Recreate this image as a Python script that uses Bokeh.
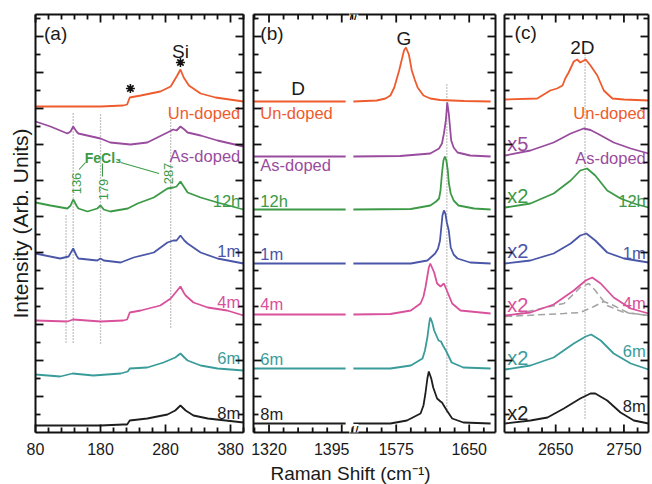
from math import pi
from bokeh.plotting import figure
from bokeh.models import LinearAxis, FixedTicker, Range1d, Label
from bokeh.layouts import row, column
from bokeh.core.properties import value
from bokeh.embed import file_html
from bokeh.resources import INLINE

FONT = "Liberation Sans"

series = ["Un-doped", "As-doped", "12h", "1m", "4m", "6m", "8m"]
colors = ["#EE5B2D", "#994C9E", "#3C9A47", "#4A56A8", "#D9509B", "#3A9C9A", "#1E1E1E"]
multipliers = ["x5", "x2", "x2", "x2", "x2", "x2"]

# ---------------- panel (a): low-frequency region ----------------
a_undoped_x = [80, 180, 215, 221, 225, 242, 272, 288, 298, 303, 308, 316, 334, 357, 400]
a_undoped_y = [326, 326, 327, 328, 335, 337, 341, 346, 357, 363, 355, 347, 339, 335, 331]
a_asdoped_x = [80, 103, 129, 134, 138, 143, 146, 180, 195, 226, 252, 283, 292, 297, 303, 309, 314, 334, 360, 400]
a_asdoped_y = [311, 306, 299, 301, 306, 301, 299, 294, 290, 288, 290, 300, 303, 302, 306, 303, 300, 297, 292, 286]
a_12h_x = [80, 103, 129, 134, 138, 143, 146, 160, 175, 180, 185, 195, 222, 237, 262, 283, 292, 297, 303, 309, 314, 334, 360, 400]
a_12h_y = [230, 227, 224, 227, 233, 227, 224, 221, 224, 227, 223, 221, 224, 229, 235, 244, 245, 246, 251, 245, 240, 235, 230, 223]
a_1m_x = [80, 118, 131, 138, 143, 146, 175, 180, 185, 211, 231, 262, 283, 292, 297, 303, 309, 314, 334, 360, 400]
a_1m_y = [179, 174, 176, 184, 177, 174, 172, 174, 172, 170, 175, 180, 190, 192, 192, 197, 192, 189, 180, 174, 169]
a_4m_x = [80, 129, 138, 180, 215, 221, 225, 242, 272, 288, 298, 303, 308, 311, 323, 345, 375, 400]
a_4m_y = [112, 111, 113, 111, 112, 113, 120, 122, 127, 134, 142, 146, 140, 137, 130, 125, 122, 117]
a_6m_x = [80, 118, 137, 169, 211, 222, 225, 252, 277, 295, 303, 309, 314, 334, 360, 400]
a_6m_y = [58, 56, 59, 57, 59, 61, 64, 65, 70, 75, 79, 75, 72, 67, 64, 62]
a_8m_x = [80, 180, 215, 221, 225, 252, 283, 295, 303, 311, 323, 345, 400]
a_8m_y = [7, 7, 8, 8, 12, 14, 18, 22, 27, 22, 17, 14, 10]

a_fecl3_modes = ["136", "179", "287"]
a_line_x = [127, 138, 180, 288]
a_line_top = [219, 319, 319, 319]
a_line_bottom = [90, 90, 89, 105]

# ---------------- panel (b): D region (left of the break) ----------------
bl_x = [1304, 1330, 1360, 1399]
bl_undoped_y = [331, 331, 331, 331]
bl_asdoped_y = [276, 276, 276, 276]
bl_12h_y = [223, 223, 223, 223]
bl_1m_y = [169, 169, 169, 169]
bl_4m_y = [118, 118, 118, 118]
bl_6m_y = [64, 64, 64, 64]
bl_8m_y = [9, 9, 9, 9]

# ---------------- panel (b): G region (right of the break) ----------------
br_undoped_x = [1531, 1555, 1564, 1569, 1573, 1578, 1581, 1583, 1585, 1588, 1591, 1594, 1597, 1603, 1610, 1620, 1645, 1672]
br_undoped_y = [331, 332, 334, 337, 345, 362, 374, 382, 385, 378, 362, 353, 345, 337, 334, 332.5, 331.5, 331]
br_asdoped_x = [1531, 1579, 1610, 1619, 1622, 1624, 1626, 1627, 1627.4, 1628, 1629, 1631.5, 1634, 1638, 1651, 1672]
br_asdoped_y = [276, 276.5, 279, 284, 289, 299, 312, 325, 330, 326, 319, 292, 285, 280, 277, 276]
br_12h_x = [1531, 1590, 1610, 1616, 1619, 1620.5, 1622, 1623.5, 1625, 1626.5, 1628, 1629, 1631, 1634, 1639, 1655, 1672]
br_12h_y = [223, 223.5, 227, 231, 234, 242, 259, 272, 276, 272, 262, 250, 239, 232, 227, 224, 223]
br_1m_x = [1531, 1590, 1607, 1615, 1618, 1620, 1621, 1622.5, 1624, 1625.5, 1627, 1629, 1631, 1634, 1638, 1651, 1672]
br_1m_y = [169, 169, 172, 179, 184, 192, 202, 217, 222, 219, 210, 202, 185, 178, 174, 170, 169]
br_4m_x = [1531, 1569, 1590, 1600, 1603, 1605, 1608.5, 1610, 1614, 1617, 1620.5, 1624, 1627, 1632.5, 1641, 1672]
br_4m_y = [118, 118.5, 122, 129, 136, 145, 165, 169, 160, 149, 146, 149, 142, 129, 122, 119]
br_6m_x = [1531, 1569, 1590, 1602, 1604.5, 1607, 1609, 1610, 1612, 1614, 1618.5, 1621, 1623, 1626, 1632, 1644, 1672]
br_6m_y = [64, 64, 67, 74, 82, 95, 110, 115, 110, 102, 92, 91, 87, 82, 70, 65, 64]
br_8m_x = [1531, 1569, 1586, 1600, 1603, 1605, 1607, 1608.5, 1611, 1613, 1617, 1620.5, 1622, 1627, 1632.5, 1644, 1672]
br_8m_y = [9, 9, 12, 19, 27, 39, 54, 61, 54, 45, 34, 31, 30, 22, 14, 10, 9]
b_line_x = [1627]
b_line_top = [350]
b_line_bottom = [20]

# ---------------- panel (c): 2D region ----------------
c_undoped_x = [2576, 2623, 2642, 2652, 2660, 2664, 2669, 2676.5, 2681.5, 2686, 2694, 2701, 2711, 2720.5, 2733, 2750, 2786]
c_undoped_y = [333, 334, 342, 344, 347, 354, 360, 371, 373, 370, 373, 367, 357, 342, 334, 333, 332]
c_asdoped_x = [2576, 2613, 2647, 2672, 2691, 2701, 2711, 2735, 2760, 2786]
c_asdoped_y = [277, 282, 290, 299, 304, 302.5, 299, 290, 284, 279]
c_12h_x = [2576, 2613, 2647, 2672, 2686, 2696, 2708, 2725.5, 2745, 2767, 2786]
c_12h_y = [225, 229, 239, 252, 262, 264, 257, 242, 234, 228.5, 225]
c_1m_x = [2576, 2613, 2647, 2672, 2686, 2695, 2708, 2725.5, 2750, 2786]
c_1m_y = [169, 172, 179, 189, 197, 199, 192, 180, 174, 170]
c_4m_x = [2576, 2613, 2647, 2676.5, 2694, 2703.5, 2716, 2735, 2760, 2786]
c_4m_y = [117, 120, 128, 142, 152, 155, 149, 135, 124, 119]
c_4m_fit1_x = [2576, 2662, 2686, 2698.5, 2708, 2716, 2725.5, 2750, 2786]
c_4m_fit1_y = [116, 129, 145, 149, 142, 135, 127, 120, 117]
c_4m_fit2_x = [2576, 2662, 2686, 2706, 2720.5, 2735, 2755, 2786]
c_4m_fit2_y = [116, 119, 120, 126, 131, 127, 120, 117]
c_6m_x = [2576, 2613, 2647, 2676.5, 2694, 2702, 2716, 2735, 2760, 2786]
c_6m_y = [63, 67, 75, 89, 96, 98, 92, 79, 69, 63]
c_8m_x = [2576, 2613, 2638, 2662, 2686, 2701, 2708, 2725.5, 2745, 2764.5, 2786]
c_8m_y = [9, 12, 15, 24, 34, 39, 39, 32, 20, 12, 9]
c_line_x = [2693]
c_line_top = [379]
c_line_bottom = [14]

# ticks
a_major = [80, 180, 280, 380]
a_minor = [100, 120, 140, 160, 200, 220, 240, 260, 300, 320, 340, 360, 400]
bl_major = [1320, 1395]
bl_minor = [1305, 1335, 1350, 1365, 1380]
br_major = [1575, 1650]
br_minor = [1530, 1545, 1560, 1590, 1605, 1620, 1635, 1665]
c_major = [2650, 2750]
c_minor = [2590, 2610, 2630, 2670, 2690, 2710, 2730, 2770]
y_major = [36, 72, 108, 144, 180, 216, 252, 288, 324, 360, 396]
y_minor = [18, 54, 90, 126, 162, 198, 234, 270, 306, 342, 378, 414]

AX = "#111111"
FRAME_H = 418
MAJ_LEN = 8
MIN_LEN = 5


def add_axis(p, loc, ticks, labels=False, axis_label=None):
    ax = LinearAxis(ticker=FixedTicker(ticks=ticks, minor_ticks=[]), axis_line_color=AX,
                    axis_line_width=2, major_tick_in=0, major_tick_out=0,
                    minor_tick_in=0, minor_tick_out=0)
    if labels:
        ax.major_label_text_font = FONT
        ax.major_label_text_font_size = "16px"
        ax.major_label_text_color = "#1a1a1a"
        ax.major_label_standoff = 10
    else:
        ax.major_label_standoff = 0
    if axis_label:
        ax.axis_label = axis_label
        ax.axis_label_text_font = FONT
        ax.axis_label_text_font_size = "21px"
        ax.axis_label_text_font_style = "normal"
        ax.axis_label_text_color = "#1a1a1a"
        ax.axis_label_standoff = 4
    p.add_layout(ax, loc)


def draw_ticks(p, xr, fw, xmaj, xmin, left, right):
    sx = fw / (xr[1] - xr[0])
    kw = dict(line_color=AX, line_width=1.8, level="overlay")
    for ticks, ln in ((xmaj, MAJ_LEN), (xmin, MIN_LEN)):
        n = len(ticks)
        p.segment(x0=ticks, y0=[0] * n, x1=ticks, y1=[ln] * n, **kw)
        p.segment(x0=ticks, y0=[FRAME_H] * n, x1=ticks, y1=[FRAME_H - ln] * n, **kw)
    for ticks, ln in ((y_major, MAJ_LEN), (y_minor, MIN_LEN)):
        n = len(ticks)
        if left:
            p.segment(x0=[xr[0]] * n, y0=ticks, x1=[xr[0] + ln / sx] * n, y1=ticks, **kw)
        if right:
            p.segment(x0=[xr[1]] * n, y0=ticks, x1=[xr[1] - ln / sx] * n, y1=ticks, **kw)


def make_panel(xr, fw, mbl, mbr, xmaj, xmin, left=True, right=True, ylabel=None):
    p = figure(frame_width=fw, frame_height=FRAME_H, x_range=Range1d(*xr), y_range=Range1d(0, FRAME_H),
               min_border_left=mbl, min_border_right=mbr, min_border_top=14, min_border_bottom=30,
               x_axis_location=None, y_axis_location=None, toolbar_location=None,
               output_backend="svg", outline_line_color=None,
               background_fill_color="white", border_fill_color="white")
    p.grid.visible = False
    add_axis(p, "below", xmaj, labels=True)
    add_axis(p, "above", [])
    if left:
        add_axis(p, "left", [], axis_label=ylabel)
    if right:
        add_axis(p, "right", [])
    draw_ticks(p, xr, fw, xmaj, xmin, left, right)
    return p


def txt(p, x, y, t, color, size, align="center", angle=0.0, style="normal"):
    p.text(x=x, y=y, text=t, text_color=color, text_font=value(FONT), text_font_size=size,
           text_align=align, text_baseline="middle", angle=angle, text_font_style=style)


def dotted(p, xs, tops, bottoms):
    p.segment(x0=xs, y0=bottoms, x1=xs, y1=tops, line_color="#8a8a8a", line_width=1.3, line_dash="1 2")


# ---------------- panel (a) ----------------
pa = make_panel((80, 400), 208, 35, 5, a_major, a_minor, ylabel="Intensity (Arb. Units)")
dotted(pa, a_line_x, a_line_top, a_line_bottom)
a_xs = [a_undoped_x, a_asdoped_x, a_12h_x, a_1m_x, a_4m_x, a_6m_x, a_8m_x]
a_ys = [a_undoped_y, a_asdoped_y, a_12h_y, a_1m_y, a_4m_y, a_6m_y, a_8m_y]
for xs, ys, c in zip(a_xs, a_ys, colors):
    pa.line(xs, ys, line_color=c, line_width=1.8)
txt(pa, [395] * 7, [320, 277, 232, 182, 131, 75, 20], series, colors, "16.5px", align="right")
txt(pa, [111], [399], ["(a)"], "#1a1a1a", "19px")
txt(pa, [303], [381], ["Si"], "#1a1a1a", "19px")
pa.scatter([303, 226], [370, 344], marker="asterisk", size=9, line_width=1.6, line_color="#111111")
# FeCl3 assignment labels
txt(pa, [184], [275], ["FeCl\u2083"], colors[2], "14px", style="bold")
txt(pa, [143, 185, 285], [249, 243, 259], a_fecl3_modes, colors[2], "13px", angle=pi / 2)
pa.multi_line(xs=[[157, 147], [183, 183], [211, 270]], ys=[[270, 263], [269, 256], [270, 259]],
              line_color=colors[2], line_width=1.1)

# ---------------- panel (b) left ----------------
pbl = make_panel((1304, 1403), 96, 5, 0, bl_major, bl_minor, right=False)
for ys, c in zip([bl_undoped_y, bl_asdoped_y, bl_12h_y, bl_1m_y, bl_4m_y, bl_6m_y, bl_8m_y], colors):
    pbl.line(bl_x, ys, line_color=c, line_width=1.8)
txt(pbl, [1311] * 7, [320, 268, 232, 179, 129, 74, 19], series, colors, "16.5px", align="left")
txt(pbl, [1323], [399], ["(b)"], "#1a1a1a", "19px")
txt(pbl, [1350], [344], ["D"], "#1a1a1a", "19px")

# ---------------- panel (b) right ----------------
pbr = make_panel((1527, 1677), 146, 0, 4, br_major, br_minor, left=False)
dotted(pbr, b_line_x, b_line_top, b_line_bottom)
br_xs = [br_undoped_x, br_asdoped_x, br_12h_x, br_1m_x, br_4m_x, br_6m_x, br_8m_x]
br_ys = [br_undoped_y, br_asdoped_y, br_12h_y, br_1m_y, br_4m_y, br_6m_y, br_8m_y]
for xs, ys, c in zip(br_xs, br_ys, colors):
    pbr.line(xs, ys, line_color=c, line_width=1.8)
txt(pbr, [1583], [394], ["G"], "#1a1a1a", "19px")

# axis break marks
for yb in (FRAME_H, 0):
    pbr.add_layout(Label(x=1527, y=yb, text="//", text_align="left", text_baseline="middle",
                         text_font=FONT, text_font_size="16px", text_color="#111111",
                         background_fill_color="white"))

# ---------------- panel (c) ----------------
pc = make_panel((2575, 2786), 144, 5, 4, c_major, c_minor)
dotted(pc, c_line_x, c_line_top, c_line_bottom)
pc.line(c_4m_fit1_x, c_4m_fit1_y, line_color="#a3a3a3", line_width=1.5, line_dash="7 4")
pc.line(c_4m_fit2_x, c_4m_fit2_y, line_color="#a3a3a3", line_width=1.5, line_dash="7 4")
c_xs = [c_undoped_x, c_asdoped_x, c_12h_x, c_1m_x, c_4m_x, c_6m_x, c_8m_x]
c_ys = [c_undoped_y, c_asdoped_y, c_12h_y, c_1m_y, c_4m_y, c_6m_y, c_8m_y]
for xs, ys, c in zip(c_xs, c_ys, colors):
    pc.line(xs, ys, line_color=c, line_width=1.8)
txt(pc, [2782] * 7, [320, 275, 232, 180, 130, 82, 27], series, colors, "16.5px", align="right")
txt(pc, [2579] * 6, [289, 237, 182, 128, 75, 20], multipliers, colors[1:], "20px", align="left")
txt(pc, [2606], [400], ["(c)"], "#1a1a1a", "19px")
txt(pc, [2689], [385], ["2D"], "#1a1a1a", "19px")

# ---------------- shared x-axis title ----------------
foot = figure(width=652, height=22, x_range=Range1d(0, 652), y_range=Range1d(0, 22),
              x_axis_location=None, y_axis_location=None, toolbar_location=None,
              output_backend="svg", outline_line_color=None, min_border=0)
foot.grid.visible = False
txt(foot, [350], [11], ["Raman Shift (cm\u207b\u00b9)"], "#1a1a1a", "19px")

layout = column(row(pa, pbl, pbr, pc), foot)
open("out.html", "w").write(file_html(layout, INLINE))
